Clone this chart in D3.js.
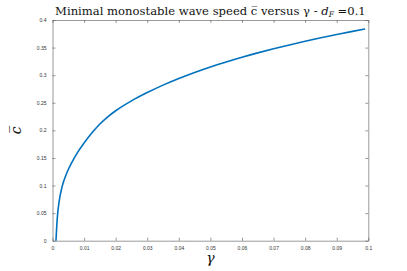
<!DOCTYPE html>
<html>
<head>
<meta charset="utf-8">
<script src="https://cdn.jsdelivr.net/npm/d3@7"></script>
<style>
  body { margin: 0; background: #fff; }
  svg { display: block; }
  .tick text { font-family: "Liberation Sans", Arial, sans-serif; font-size: 5px; fill: #333; }
  .axis path, .axis line { stroke: #555; stroke-width: 0.6; }
  .title { font-family: "DejaVu Serif", "Liberation Serif", serif; font-size: 11.6px; text-anchor: middle; fill: #111; }
  .label { font-family: "DejaVu Serif", "Liberation Serif", serif; font-style: italic; font-size: 14px; text-anchor: middle; fill: #111; }
  .line { fill: none; stroke: #0072BD; stroke-width: 1.6; }
</style>
</head>
<body>
<svg width="407" height="271"></svg>
<script>
// gamma values and minimal wave speed
var gammaVals = [0.0011, 0.0015, 0.0021, 0.003, 0.004, 0.005, 0.006, 0.008, 0.010, 0.0125,
                 0.015, 0.0175, 0.02, 0.025, 0.03, 0.035, 0.04, 0.045, 0.05, 0.055,
                 0.06, 0.065, 0.07, 0.075, 0.08, 0.085, 0.09, 0.095, 0.099];
var speedVals = [0, 0.04, 0.071, 0.097, 0.115, 0.129, 0.1405, 0.1605, 0.177, 0.1955,
                 0.2115, 0.2245, 0.2355, 0.2535, 0.2685, 0.282, 0.294, 0.305, 0.315, 0.324,
                 0.3325, 0.3404, 0.3478, 0.3548, 0.3614, 0.3677, 0.3737, 0.3794, 0.3837];
var xTicks = [0, 0.01, 0.02, 0.03, 0.04, 0.05, 0.06, 0.07, 0.08, 0.09, 0.1];
var yTicks = [0, 0.05, 0.1, 0.15, 0.2, 0.25, 0.3, 0.35, 0.4];

var data = gammaVals.map((g, i) => ({gamma: g, c: speedVals[i]}));

var pArea = [52.5, 20, 368.3, 240.7];

var xScale = d3.scaleLinear().domain([0, 0.1]).range([pArea[0], pArea[2]]);
var yScale = d3.scaleLinear().domain([0, 0.4]).range([pArea[3], pArea[1]]);

var svg = d3.select("svg");
var g = svg.append("g");

var fmt = d => d === 0 ? "0" : String(+d.toFixed(2));

// bottom and top x axes
g.append("g")
  .attr("class", "axis")
  .attr("transform", `translate(0, ${pArea[3]})`)
  .call(d3.axisBottom(xScale).tickValues(xTicks).tickFormat(fmt).tickSizeInner(-3).tickSizeOuter(0).tickPadding(6));

g.append("g")
  .attr("class", "axis")
  .attr("transform", `translate(0, ${pArea[1]})`)
  .call(d3.axisTop(xScale).tickValues(xTicks).tickFormat("").tickSizeInner(-3).tickSizeOuter(0));

// left and right y axes
g.append("g")
  .attr("class", "axis")
  .attr("transform", `translate(${pArea[0]}, 0)`)
  .call(d3.axisLeft(yScale).tickValues(yTicks).tickFormat(fmt).tickSizeInner(-3).tickSizeOuter(0).tickPadding(6));

g.append("g")
  .attr("class", "axis")
  .attr("transform", `translate(${pArea[2]}, 0)`)
  .call(d3.axisRight(yScale).tickValues(yTicks).tickFormat("").tickSizeInner(-3).tickSizeOuter(0));

// title
g.append("text")
  .attr("class", "title")
  .attr("x", (pArea[0] + pArea[2]) / 2)
  .attr("y", 15)
  .html("Minimal monostable wave speed c\u0305 versus \u03b3 - <tspan font-style='italic'>d</tspan><tspan font-style='italic' font-size='7.5px' dy='2'>F</tspan><tspan dy='-2'> =0.1</tspan>");

// axis labels
g.append("text")
  .attr("class", "label")
  .attr("x", (pArea[0] + pArea[2]) / 2)
  .attr("y", 263)
  .text("\u03b3");

g.append("text")
  .attr("class", "label")
  .attr("transform", "rotate(-90)")
  .attr("x", -(pArea[1] + pArea[3]) / 2)
  .attr("y", 21)
  .text("c\u0305");

// curve
var line = d3.line()
  .x(d => xScale(d.gamma))
  .y(d => yScale(d.c))
  .curve(d3.curveMonotoneX);

g.append("path")
  .datum(data)
  .attr("class", "line")
  .attr("d", line);
</script>
</body>
</html>
